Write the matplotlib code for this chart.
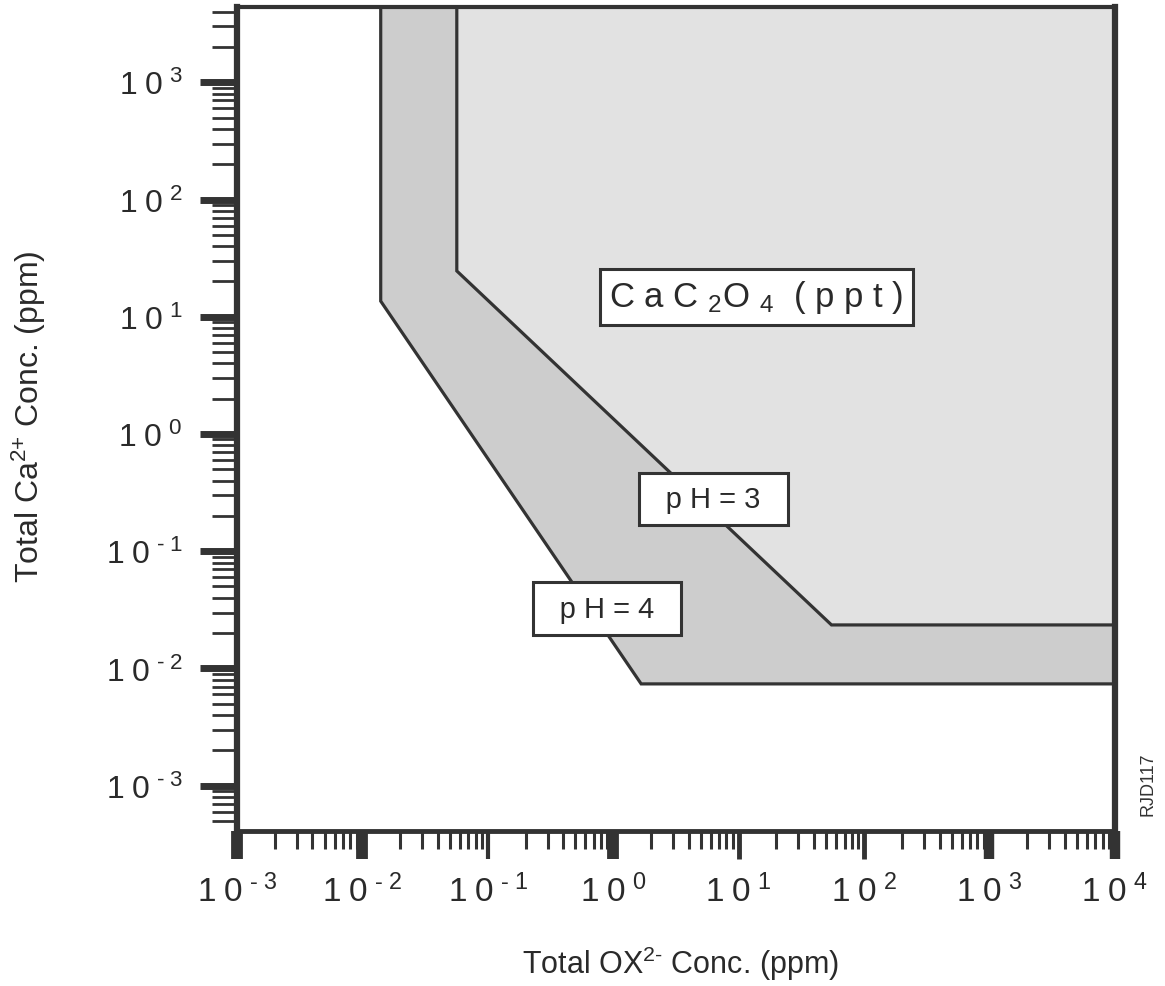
import numpy as np
import matplotlib
matplotlib.use("Agg")
import matplotlib.pyplot as plt
from matplotlib.ticker import FixedLocator, LogLocator, FuncFormatter, NullFormatter

plt.rcParams["font.family"] = ["Liberation Sans", "DejaVu Sans"]
plt.rcParams["mathtext.fontset"] = "custom"
plt.rcParams["mathtext.rm"] = "Liberation Sans"
plt.rcParams["mathtext.it"] = "Liberation Sans"
plt.rcParams["mathtext.bf"] = "Liberation Sans:bold"

# --- data (ppm)
ox_limits = (1.0e-3, 1.0e4)
ca_limits = (4.1e-4, 4.4e3)
ox_decades = [1e-3, 1e-2, 1e-1, 1e0, 1e1, 1e2, 1e3, 1e4]
ca_decades = [1e-3, 1e-2, 1e-1, 1e0, 1e1, 1e2, 1e3]

# pH = 3 precipitation boundary (top -> corner -> diagonal -> flat to right edge)
ph3_ox = [0.0566, 0.0566, 55.0, 1.0e4]
ph3_ca = [1.0e4, 24.6, 0.0235, 0.0235]

# pH = 4 precipitation boundary
ph4_ox = [0.0140, 0.0140, 1.67, 1.0e4]
ph4_ca = [1.0e4, 13.6, 0.00738, 0.00738]

labels = ["p H = 3", "p H = 4"]
label_ox = [6.3, 0.89]
label_ca = [0.28, 0.0323]
ppt_ox, ppt_ca = 13.8, 14.8

LINE = "#333333"
TEXT = "#2a2a2a"
BAND = "#cdcdcd"
LIGHT = "#e2e2e2"

fig = plt.figure(figsize=(11.65, 9.87), dpi=100)
ax = fig.add_axes([0.2034, 0.157, 0.7536, 0.835])
ax.set_xscale("log")
ax.set_yscale("log")
ax.set_xlim(*ox_limits)
ax.set_ylim(*ca_limits)

# shaded regions: close each boundary polygon through the top-right corner
ax.fill(ph4_ox + [ph4_ox[-1]], ph4_ca + [ph4_ca[0]], color=BAND, lw=0, zorder=1)
ax.fill(ph3_ox + [ph3_ox[-1]], ph3_ca + [ph3_ca[0]], color=LIGHT, lw=0, zorder=2)
ax.plot(ph4_ox, ph4_ca, color=LINE, lw=2.3, zorder=3, solid_joinstyle="miter")
ax.plot(ph3_ox, ph3_ca, color=LINE, lw=2.3, zorder=3, solid_joinstyle="miter")

box = dict(boxstyle="square,pad=0.42", fc="white", ec=LINE, lw=2.2)
for txt, x, y in zip(labels, label_ox, label_ca):
    ax.text(x, y, "\u2002" + txt + "\u2002", fontsize=21, color=TEXT, ha="center",
            va="center", bbox=box, zorder=5)
ax.text(ppt_ox, ppt_ca,
        r"$\mathregular{C\ a\ C\ {}_{2}O\ {}_{4}\ \ (\ p\ p\ t\ )}$",
        fontsize=25, color=TEXT, ha="center", va="center",
        bbox=dict(boxstyle="square,pad=0.27", fc="white", ec=LINE, lw=2.2), zorder=5)


def decade_label(v, pos):
    e = int(round(np.log10(v)))
    sup = (r"\text{-}\;" + str(-e)) if e < 0 else str(e)
    return r"$\mathregular{1\;0\;^{" + sup + "}}$"


ax.xaxis.set_major_locator(FixedLocator(ox_decades))
ax.yaxis.set_major_locator(FixedLocator(ca_decades))
for axis in (ax.xaxis, ax.yaxis):
    axis.set_minor_locator(LogLocator(base=10, subs=np.arange(2, 10), numticks=20))
    axis.set_major_formatter(FuncFormatter(decade_label))
    axis.set_minor_formatter(NullFormatter())

ax.tick_params(axis="x", which="major", direction="out", length=20, width=7,
               color=LINE, labelsize=24, labelcolor=TEXT, pad=11)
ax.tick_params(axis="x", which="minor", direction="out", length=13, width=2.2, color=LINE)
ax.tick_params(axis="y", which="major", direction="out", length=27, width=5,
               color=LINE, labelsize=23, labelcolor=TEXT, pad=12)
ax.tick_params(axis="y", which="minor", direction="out", length=18, width=2.0, color=LINE)

# the printed bottom ticks are not all equally heavy
x_tick_widths = [8.5, 8.5, 3.0, 8.5, 3.5, 3.5, 7.5, 7.5]
for tick, w in zip(ax.xaxis.get_major_ticks(), x_tick_widths):
    tick.tick1line.set_markeredgewidth(w)

for side, w in (("left", 4.5), ("bottom", 3.5), ("top", 3.0), ("right", 4.5)):
    ax.spines[side].set_linewidth(w)
    ax.spines[side].set_color(LINE)
    ax.spines[side].set_zorder(6)

ax.set_xlabel(r"Total OX$^{\mathregular{2}\text{-}}$ Conc. (ppm)", fontsize=22, color=TEXT)
ax.set_ylabel(r"Total Ca$^{\mathregular{2}\text{+}}$ Conc. (ppm)", fontsize=23, color=TEXT)
ax.xaxis.set_label_coords(0.505, -0.137)
ax.yaxis.set_label_coords(-0.215, 0.504)

fig.text(0.985, 0.205, "RJD117", rotation=90, fontsize=13, color="#333333",
         ha="center", va="center")

fig.savefig("out.png", dpi=100, facecolor="white")
